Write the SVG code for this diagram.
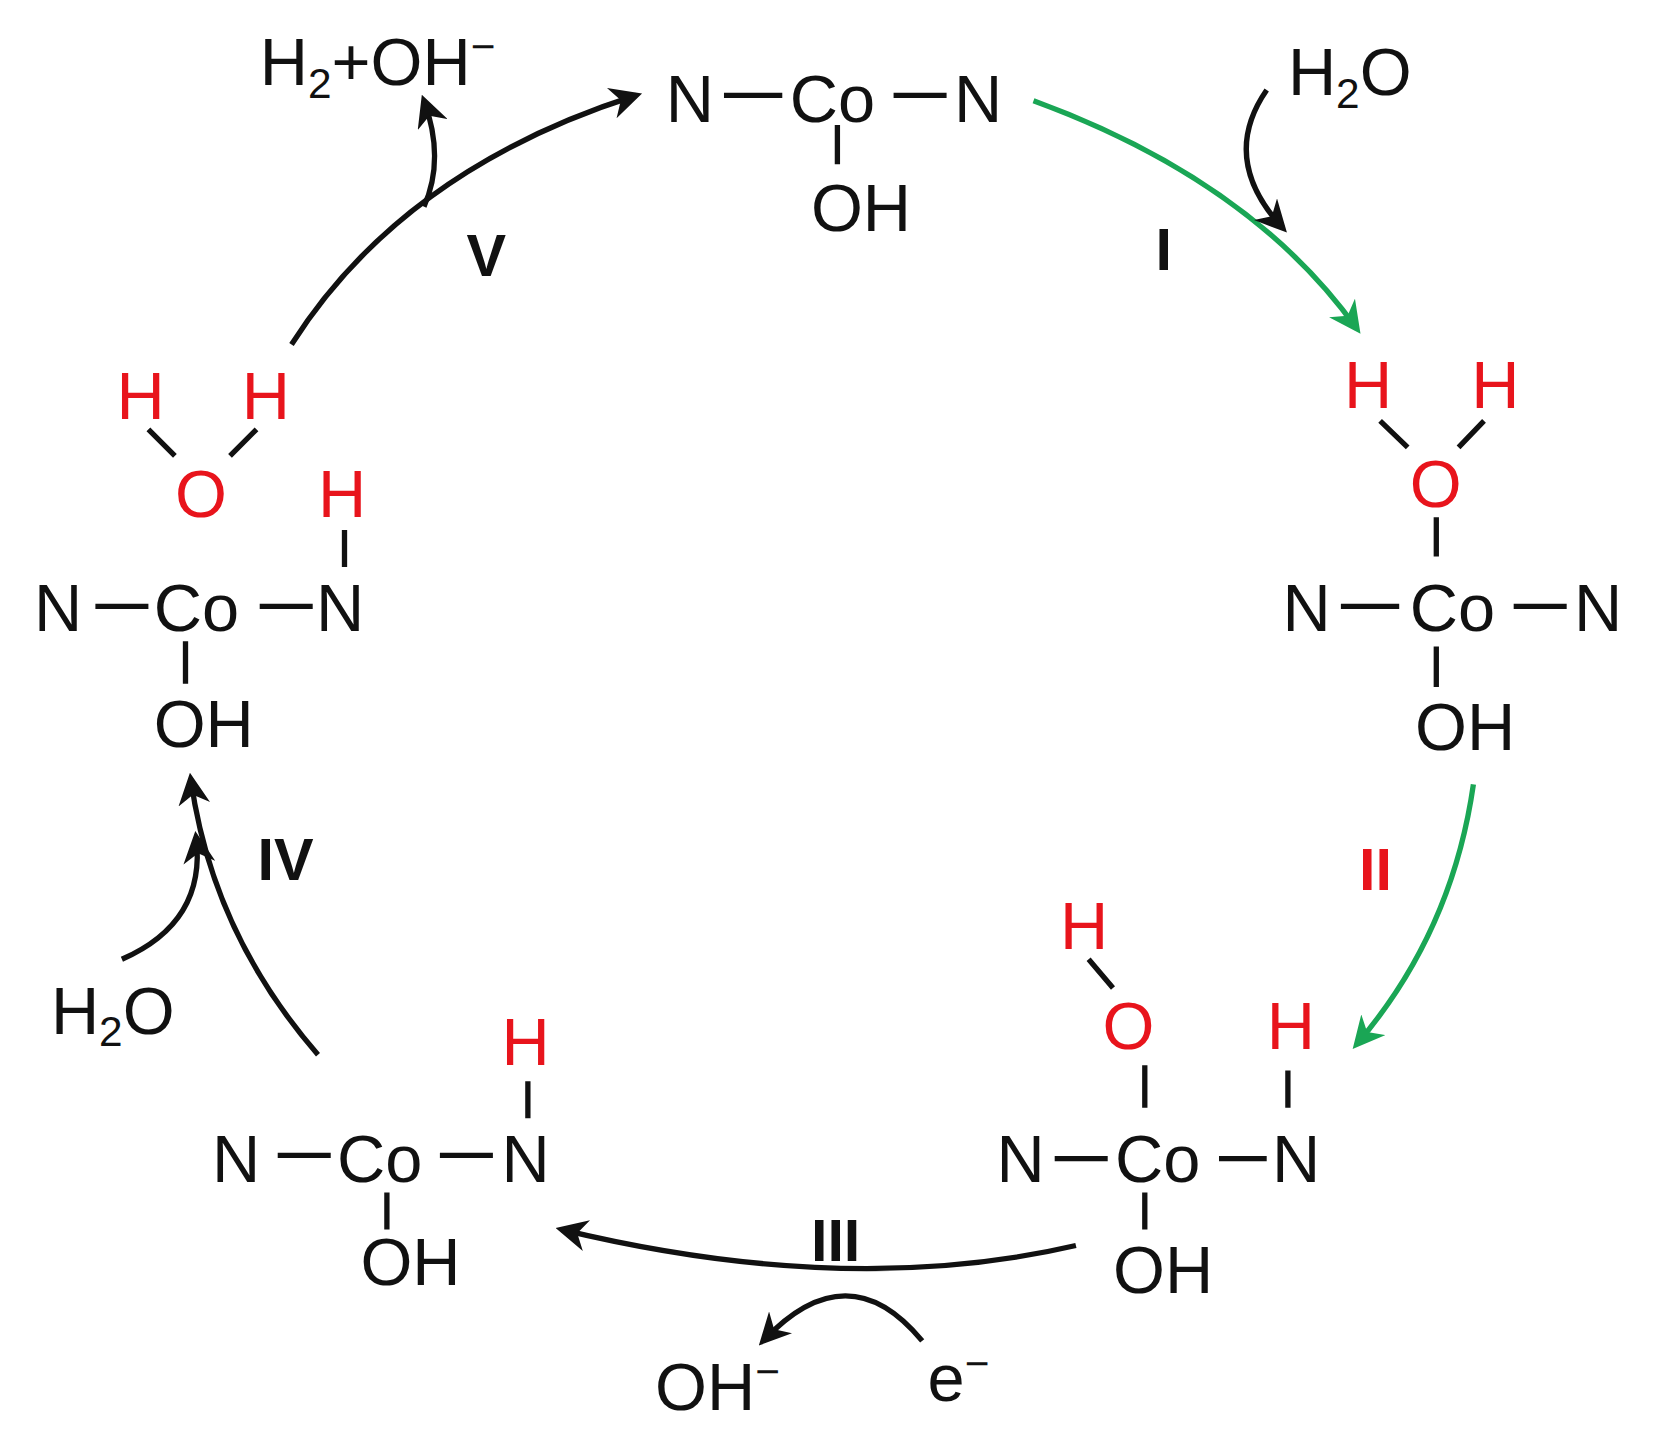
<svg xmlns="http://www.w3.org/2000/svg" width="1653" height="1440" viewBox="0 0 1653 1440">
<style>
text{font-family:"Liberation Sans",Arial,sans-serif;font-size:63px;fill:#111}
.r{fill:#e8141c}
.b{font-weight:bold;font-size:56px}
.s{font-size:40px}
.bond{stroke:#111;stroke-width:5;fill:none}
.c{stroke:#111;stroke-width:5;fill:none}
.g{stroke:#1aa655;stroke-width:5;fill:none}
</style>
<defs>
<marker id="ak" viewBox="0 0 10 10" refX="8" refY="5" markerWidth="6" markerHeight="6" markerUnits="strokeWidth" orient="auto"><path d="M0,0 L10,5 L0,10 L3,5 z" fill="#111"/></marker>
<marker id="ag" viewBox="0 0 10 10" refX="8" refY="5" markerWidth="6" markerHeight="6" markerUnits="strokeWidth" orient="auto"><path d="M0,0 L10,5 L0,10 L3,5 z" fill="#1aa655"/></marker>
</defs>
<rect width="1653" height="1440" fill="#fff"/>
<g transform="scale(1.06)">
<g id="node1">
<text x="628" y="115">N</text><path class="bond" d="M683 90H738M843 90H893M790 118V155"/>
<text x="745" y="115">Co</text><text x="900" y="115">N</text><text x="765" y="218">OH</text>
</g>
<g id="node2">
<text class="r" x="1268" y="385">H</text><text class="r" x="1388" y="385">H</text>
<path class="bond" d="M1302 397L1328 422M1400 397L1376 422M1355 488V525M1265 572H1320M1428 572H1478M1355 610V648"/>
<text class="r" x="1330" y="478">O</text>
<text x="1210" y="595">N</text><text x="1330" y="595">Co</text><text x="1485" y="595">N</text><text x="1335" y="708">OH</text>
</g>
<g id="node3">
<text class="r" x="1000" y="895">H</text><text class="r" x="1040" y="990">O</text><text class="r" x="1195" y="990">H</text>
<path class="bond" d="M1027 905L1050 932M1080 1005V1045M1215 1010V1045M995 1093H1045M1150 1093H1195M1080 1125V1160"/>
<text x="940" y="1115">N</text><text x="1052" y="1115">Co</text><text x="1200" y="1115">N</text><text x="1050" y="1220">OH</text>
</g>
<g id="node4">
<text class="r" x="473" y="1005">H</text>
<path class="bond" d="M498 1020V1055M262 1090H312M415 1090H465M365 1125V1160"/>
<text x="200" y="1115">N</text><text x="318" y="1115">Co</text><text x="473" y="1115">N</text><text x="340" y="1212">OH</text>
</g>
<g id="node5">
<text class="r" x="110" y="395">H</text><text class="r" x="228" y="395">H</text><text class="r" x="165" y="488">O</text>
<text class="r" x="300" y="488">H</text>
<path class="bond" d="M140 405L165 430M242 405L217 430M325 500V535M90 572H140M245 572H295M175 605V645"/>
<text x="32" y="595">N</text><text x="145" y="595">Co</text><text x="298" y="595">N</text><text x="145" y="705">OH</text>
</g>
<g id="connectors">
<path class="g" marker-end="url(#ag)" d="M975 95Q1180 170 1280 310"/>
<path class="c" marker-end="url(#ak)" d="M1195 85Q1150 150 1210 215"/>
<path class="g" marker-end="url(#ag)" d="M1390 740Q1370 880 1280 985"/>
<path class="c" marker-end="url(#ak)" d="M1015 1175Q800 1225 530 1160"/>
<path class="c" marker-end="url(#ak)" d="M870 1265Q800 1180 720 1265"/>
<path class="c" marker-end="url(#ak)" d="M300 995Q200 880 180 735"/>
<path class="c" marker-end="url(#ak)" d="M115 905Q195 870 185 790"/>
<path class="c" marker-end="url(#ak)" d="M275 325Q380 160 600 90"/>
<path class="c" marker-end="url(#ak)" d="M400 195Q420 150 400 95"/>
</g>
<g id="labels">
<text class="b" x="1090" y="255">I</text>
<text class="b r" x="1282" y="840">II</text>
<text class="b" x="765" y="1190">III</text>
<text class="b" x="243" y="830">IV</text>
<text class="b" x="440" y="260">V</text>
<text x="1215" y="90">H<tspan class="s" dy="12">2</tspan><tspan dy="-12">O</tspan></text>
<text x="48" y="975">H<tspan class="s" dy="12">2</tspan><tspan dy="-12">O</tspan></text>
<text x="245" y="80">H<tspan class="s" dy="12">2</tspan><tspan dy="-12">+OH</tspan><tspan class="s" dy="-22">−</tspan></text>
<text x="618" y="1330">OH<tspan class="s" dy="-22">−</tspan></text>
<text x="875" y="1322">e<tspan class="s" dy="-22">−</tspan></text>
</g>
</g>
</svg>
